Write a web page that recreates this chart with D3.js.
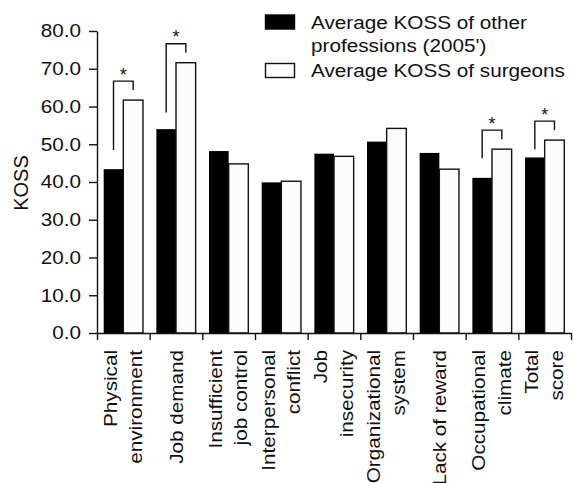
<!DOCTYPE html>
<html>
<head>
<meta charset="utf-8">
<script src="https://cdn.jsdelivr.net/npm/d3@7"></script>
<style>
  html, body { margin: 0; padding: 0; background: #fff; }
  svg { display: block; font-family: "Liberation Sans", Arial, Helvetica, sans-serif; }
</style>
</head>
<body>
<svg id="chart" width="574" height="483"></svg>
<script>
// ---- data ----
const categories = [
  "Physical\nenvironment", "Job demand", "Insufficient\njob control",
  "Interpersonal\nconflict", "Job\ninsecurity", "Organizational\nsystem",
  "Lack of reward", "Occupational\nclimate", "Total\nscore"
];
const otherProfessions = [43.4, 54.0, 48.2, 39.9, 47.5, 50.7, 47.7, 41.1, 46.5];
const surgeons         = [61.7, 71.6, 44.8, 40.2, 46.8, 54.2, 43.4, 48.7, 51.1];
const seriesNames = ["Average KOSS of other\nprofessions (2005')", "Average KOSS of surgeons"];
const yTicks = [0, 10, 20, 30, 40, 50, 60, 70, 80];
// significance brackets: category index and the value where the left leg ends
const sigCategories = [0, 1, 7, 8];
const sigLeftEnd    = [48.5, 58.4, 46.3, 48.7];

// ---- layout ----
const svg = d3.select("#chart");
const x0 = 97, x1 = 571, yTop = 31, yBot = 333;
const stretch = 1.15;

const x = d3.scaleBand().domain(d3.range(categories.length)).range([x0, x1]).paddingInner(0).paddingOuter(0);
const bw = x.bandwidth();
const xs = d3.scaleBand().domain([0, 1]).range([bw * 0.127, bw * 0.873]).padding(0);
const y = d3.scaleLinear().domain([0, 80]).range([yBot, yTop]);

// bars
const groups = svg.append("g").selectAll("g").data(categories).join("g")
  .attr("transform", (d, i) => `translate(${x(i)},0)`);
groups.append("rect")
  .attr("x", xs(0)).attr("width", xs.bandwidth())
  .attr("y", (d, i) => y(otherProfessions[i]))
  .attr("height", (d, i) => yBot - y(otherProfessions[i]))
  .attr("fill", "#000");
groups.append("rect")
  .attr("x", xs(1)).attr("width", xs.bandwidth())
  .attr("y", (d, i) => y(surgeons[i]))
  .attr("height", (d, i) => yBot - y(surgeons[i]))
  .attr("fill", "#fcfcfc").attr("stroke", "#111").attr("stroke-width", 1.4);

// y axis
const yAxis = svg.append("g").attr("transform", `translate(${x0},0)`)
  .call(d3.axisLeft(y).tickValues(yTicks).tickFormat(d3.format(".1f")).tickSizeInner(8).tickSizeOuter(0).tickPadding(8));
yAxis.select(".domain").attr("stroke", "#111").attr("stroke-width", 1.4);
yAxis.selectAll(".tick line").attr("stroke", "#111").attr("stroke-width", 1.4);
yAxis.selectAll(".tick text")
  .attr("font-size", 18).attr("fill", "#111")
  .attr("font-family", '"Liberation Sans", Arial, sans-serif')
  .attr("x", -16 / stretch)
  .attr("transform", `scale(${stretch},1)`);

// x axis (ticks at band boundaries)
const xb = d3.scaleLinear().domain([0, categories.length]).range([x0, x1]);
const xAxis = svg.append("g").attr("transform", `translate(0,${yBot})`)
  .call(d3.axisBottom(xb).tickValues(d3.range(categories.length + 1)).tickFormat("").tickSizeInner(7).tickSizeOuter(0));
xAxis.select(".domain").attr("stroke", "#111").attr("stroke-width", 1.4);
xAxis.selectAll(".tick line").attr("stroke", "#111").attr("stroke-width", 1.4);

// x labels (rotated)
const labels = svg.append("g").selectAll("text").data(categories).join("text")
  .attr("text-anchor", "end")
  .attr("font-size", 18).attr("fill", "#111")
  .attr("transform", (d, i) => `translate(${x(i) + bw / 2},350) rotate(-90) scale(${stretch},1)`);
labels.each(function(d) {
  const lines = d.split("\n");
  const t = d3.select(this);
  if (lines.length === 1) {
    t.append("tspan").attr("x", 0).attr("y", 7).text(lines[0]);
  } else {
    t.append("tspan").attr("x", 0).attr("y", -6.8).text(lines[0]);
    t.append("tspan").attr("x", 0).attr("y", 18.7).text(lines[1]);
  }
});

// y title
svg.append("text")
  .attr("transform", "translate(28,183) rotate(-90)")
  .attr("text-anchor", "middle").attr("font-size", 20).attr("fill", "#111")
  .text("KOSS");

// significance brackets
sigCategories.forEach((ci, k) => {
  const cx = x(ci);
  const lx = cx + xs(0) + xs.bandwidth() / 2;
  const rx = cx + xs(1) + xs.bandwidth() / 2;
  const top = y(surgeons[ci]) - 19;
  const rBot = y(surgeons[ci]) - 10;
  const lBot = y(sigLeftEnd[k]);
  svg.append("path")
    .attr("d", `M${lx},${lBot}V${top}H${rx}V${rBot}`)
    .attr("fill", "none").attr("stroke", "#111").attr("stroke-width", 1.4);
  svg.append("text")
    .attr("x", cx + bw / 2).attr("y", top - 0.5)
    .attr("text-anchor", "middle").attr("font-size", 18).attr("fill", "#111")
    .text("*");
});

// legend
const legend = svg.append("g");
const legendRows = [
  { fill: "#000", stroke: "#000", ry: 15, lines: seriesNames[0].split("\n"), base: [28.5, 52.3] },
  { fill: "#fcfcfc", stroke: "#111", ry: 63.5, lines: seriesNames[1].split("\n"), base: [76.7] }
];
legendRows.forEach(r => {
  legend.append("rect").attr("x", 265.5).attr("y", r.ry).attr("width", 29).attr("height", 14)
    .attr("fill", r.fill).attr("stroke", r.stroke).attr("stroke-width", 1.4);
  r.lines.forEach((ln, j) => {
    legend.append("text")
      .attr("transform", `translate(311,${r.base[j]}) scale(1.12,1)`)
      .attr("font-size", 18.5).attr("fill", "#111")
      .text(ln);
  });
});
</script>
</body>
</html>
